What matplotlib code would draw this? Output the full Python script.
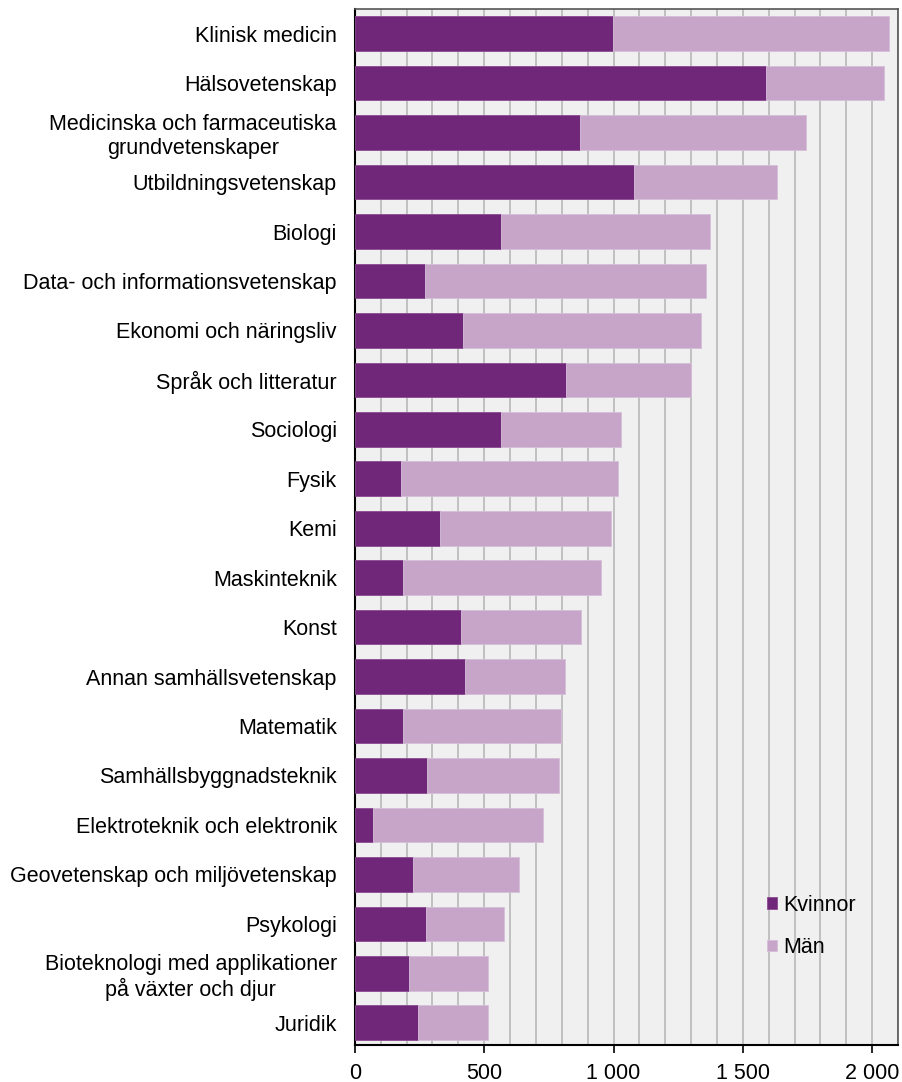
import matplotlib
matplotlib.use("Agg")
import matplotlib.pyplot as plt
import matplotlib.ticker as mtick

plt.rcParams['font.family'] = ['Liberation Sans', 'DejaVu Sans']

# Ämnen (uppifrån och ned)
categories = [
    'Klinisk medicin',
    'Hälsovetenskap',
    'Medicinska och farmaceutiska\ngrundvetenskaper',
    'Utbildningsvetenskap',
    'Biologi',
    'Data- och informationsvetenskap',
    'Ekonomi och näringsliv',
    'Språk och litteratur',
    'Sociologi',
    'Fysik',
    'Kemi',
    'Maskinteknik',
    'Konst',
    'Annan samhällsvetenskap',
    'Matematik',
    'Samhällsbyggnadsteknik',
    'Elektroteknik och elektronik',
    'Geovetenskap och miljövetenskap',
    'Psykologi',
    'Bioteknologi med applikationer\npå växter och djur',
    'Juridik',
]
kvinnor = [998, 1590, 870, 1079, 565, 272, 418, 816, 565, 178, 329, 186, 410,
           427, 186, 279, 70, 224, 275, 209, 244]
totalt = [2066, 2046, 1745, 1632, 1373, 1357, 1338, 1301, 1029, 1017, 990, 952,
          874, 811, 798, 790, 727, 634, 576, 515, 515]
man = [t - k for t, k in zip(totalt, kvinnor)]

c_kv = '#70277a'
c_man = '#c6a5c9'

fig = plt.figure(figsize=(9.03, 10.82), dpi=100)
ax = fig.add_axes([0.393, 0.0342, 0.6015, 0.9575])
ax.set_facecolor('#f0f0f0')

y = list(range(len(categories)))
ax.barh(y, kvinnor, height=0.7, color=c_kv, edgecolor='#8a4a92', linewidth=0.6,
        label='Kvinnor', zorder=3)
ax.barh(y, man, left=kvinnor, height=0.7, color=c_man, edgecolor='#d6bdd8',
        linewidth=0.6, label='Män', zorder=3)

ax.set_xlim(0, 2100)
ax.set_ylim(20.45, -0.5)
ax.set_yticks(y)
ax.set_yticklabels(categories, fontsize=15.5, multialignment='center')
ax.tick_params(axis='y', length=0, pad=13)

ax.set_xticks([0, 500, 1000, 1500, 2000])
ax.xaxis.set_minor_locator(mtick.MultipleLocator(100))
ax.xaxis.set_major_formatter(mtick.FuncFormatter(lambda v, pos: f'{v:,.0f}'.replace(',', ' ')))
ax.tick_params(axis='x', which='major', length=6, width=1.2, labelsize=15.5, pad=7)
ax.tick_params(axis='x', which='minor', length=0)
ax.grid(axis='x', which='both', color='#bdbdbd', linewidth=1.3, zorder=0)
ax.set_axisbelow(True)

for side in ['top', 'right']:
    ax.spines[side].set_color('#555555')
    ax.spines[side].set_linewidth(1.2)
for side in ['left', 'bottom']:
    ax.spines[side].set_color('black')
    ax.spines[side].set_linewidth(1.5)

ax.legend(loc='center left', bbox_to_anchor=(0.743, 0.1144), frameon=False,
          borderaxespad=0, fontsize=15.5, handlelength=0.45, handleheight=0.45,
          handletextpad=0.3, labelspacing=1.0)

fig.savefig('out.png', dpi=100)
